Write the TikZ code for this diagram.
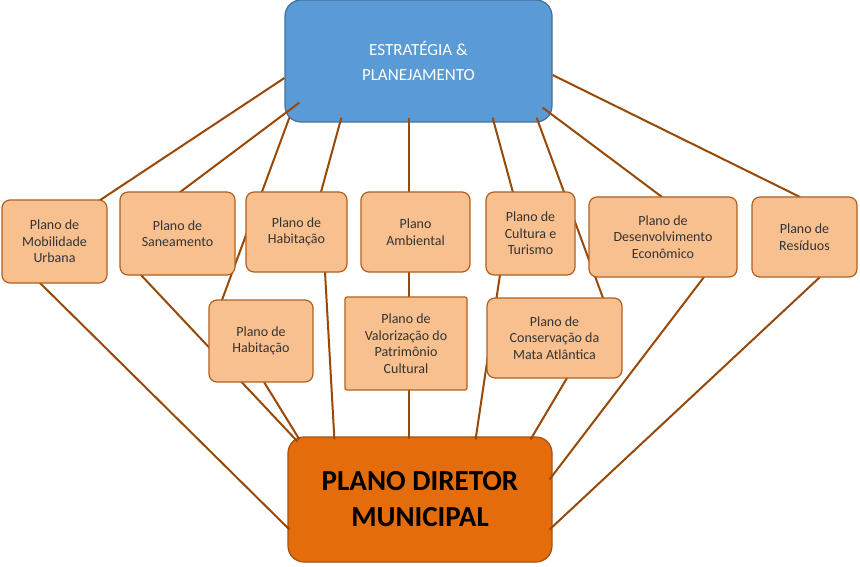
\documentclass[tikz,border=0pt]{standalone}
\usepackage{fontspec}
\setmainfont{Carlito}
\usetikzlibrary{calc}
\definecolor{topblue}{HTML}{5B9BD5}
\definecolor{topline}{HTML}{41719C}
\definecolor{planfill}{HTML}{F9C08F}
\definecolor{planline}{HTML}{B0601E}
\definecolor{linkcol}{HTML}{984807}
\definecolor{pdmfill}{HTML}{E46C0A}
\definecolor{pdmline}{HTML}{A8500C}
\tikzset{
  plan/.style={draw=planline, line width=1.2pt, fill=planfill, rounded corners=8pt,
    align=center, font=\fontsize{14}{16.5}\selectfont, text=black!80, inner sep=2pt},
  link/.style={draw=linkcol, line width=2pt}
}
\begin{document}
\begin{tikzpicture}[x=1pt,y=-1pt]
    \useasboundingbox (0,0) rectangle (860,567);
    \node[draw=topline, line width=1.2pt, fill=topblue, rounded corners=16pt, minimum width=267pt, minimum height=122pt,
      align=center, text=white, font=\fontsize{17}{25}\selectfont] (top) at (418.5,61) {ESTRATÉGIA \&\\PLANEJAMENTO};
    \node[draw=pdmline, line width=1.2pt, fill=pdmfill, rounded corners=16pt, minimum width=264pt, minimum height=125pt,
      align=center, font=\bfseries\fontsize{29}{36}\selectfont] (pdm) at (420,499.5) {PLANO DIRETOR\\MUNICIPAL};
    % placement of the plans
    \coordinate (mob) at (54.5,241.5);
    \coordinate (san) at (177.5,233.5);
    \coordinate (hab) at (296.5,232);
    \coordinate (amb) at (415.5,232);
    \coordinate (cult) at (530.5,233.5);
    \coordinate (des) at (663,237);
    \coordinate (res) at (804.5,237);
    \coordinate (habb) at (261,341);
    \coordinate (val) at (406,343.5);
    \coordinate (cons) at (554.5,338);
    % connectors from the top box
    \draw[link] ($(top.west)+(0,17)$) -- ($(mob)+(45,-41)$);
    \draw[link] ($(top.south west)+(15,-20)$) -- ($(san)+(2,-41)$);
    \draw[link] ($(top.south west)+(5,-5)$) -- ($(habb)+(-39,-41)$);
    \draw[link] ($(top.south west)+(57,-5)$) -- ($(hab)+(24.5,-40)$);
    \draw[link] ($(top.south)+(-9.5,-5)$) -- ($(val)+(3,-46)$);
    \draw[link] ($(top.south east)+(-60,-5)$) -- ($(cult)+(-17.5,-41)$);
    \draw[link] ($(top.south east)+(-16,-5)$) -- ($(cons)+(48.5,-40)$);
    \draw[link] ($(top.south east)+(-10,-15)$) -- ($(des)+(-1,-40)$);
    \draw[link] ($(top.east)+(0,14)$) -- ($(res)+(-4.5,-40)$);
    % connectors to the bottom box
    \draw[link] ($(mob)+(-15,41)$) -- ($(pdm.west)+(2,30)$);
    \draw[link] ($(san)+(-37,41)$) -- ($(pdm.north west)+(10,5)$);
    \draw[link] ($(habb)+(3,41)$) -- ($(pdm.north west)+(12,3)$);
    \draw[link] ($(hab)+(28.5,40)$) -- ($(pdm.north west)+(47,3)$);
    \draw[link] ($(val)+(3,46)$) -- ($(pdm.north)+(-11,3)$);
    \draw[link] ($(cult)+(-30.5,41)$) -- ($(pdm.north east)+(-77,3)$);
    \draw[link] ($(cons)+(12.5,40)$) -- ($(pdm.north east)+(-22,3)$);
    \draw[link] ($(des)+(41,40)$) -- ($(pdm.north east)+(-3,43)$);
    \draw[link] ($(res)+(15.5,40)$) -- ($(pdm.east)+(-3,30)$);
    % the plans
    \node[plan, minimum width=105pt, minimum height=83pt] (mobn) at (mob) {Plano de\\Mobilidade\\Urbana};
    \node[plan, minimum width=115pt, minimum height=83pt] (sann) at (san) {Plano de\\Saneamento};
    \node[plan, minimum width=101pt, minimum height=80pt] (habn) at (hab) {Plano de\\Habitação};
    \node[plan, minimum width=109pt, minimum height=80pt] (ambn) at (amb) {Plano\\Ambiental};
    \node[plan, minimum width=89pt, minimum height=83pt] (cultn) at (cult) {Plano de\\Cultura e\\Turismo};
    \node[plan, minimum width=148pt, minimum height=80pt] (desn) at (des) {Plano de\\Desenvolvimento\\Econômico};
    \node[plan, minimum width=105pt, minimum height=80pt] (resn) at (res) {Plano de\\Resíduos};
    \node[plan, minimum width=104pt, minimum height=82pt] (habbn) at (habb) {Plano de\\Habitação};
    \node[plan, rounded corners=2pt, minimum width=122pt, minimum height=93pt] (valn) at (val) {Plano de\\Valorização do\\Patrimônio\\Cultural};
    \node[plan, minimum width=135pt, minimum height=80pt] (consn) at (cons) {Plano de\\Conservação da\\Mata Atlântica};
\end{tikzpicture}
\end{document}
